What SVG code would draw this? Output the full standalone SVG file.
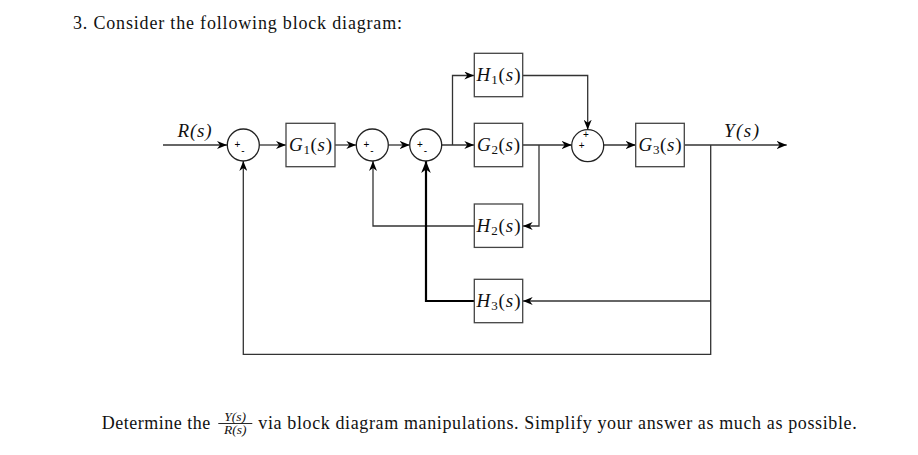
<svg xmlns="http://www.w3.org/2000/svg" width="918" height="455" viewBox="0 0 918 455">
<defs>
<marker id="ar" viewBox="0 0 10 8" markerWidth="10" markerHeight="8" refX="10" refY="4" orient="auto" markerUnits="userSpaceOnUse">
<path d="M0,0 L10,4 L0,8 L3,4 Z" fill="#000"/>
</marker>
<marker id="arb" viewBox="0 0 10 8" markerWidth="12" markerHeight="9.6" refX="10" refY="4" orient="auto" markerUnits="userSpaceOnUse">
<path d="M0,0 L10,4 L0,8 L3,4 Z" fill="#000"/>
</marker>
<style>
.w{fill:none;stroke:#333;stroke-width:1.3}
.a{marker-end:url(#ar)}
.thick{fill:none;stroke:#000;stroke-width:2.2;marker-end:url(#arb)}
.box{fill:#fff;stroke:#444;stroke-width:1.3}
.sum{fill:#fff;stroke:#222;stroke-width:1.3}
.m{font-family:"Liberation Serif",serif;font-size:19px;fill:#111;text-anchor:middle}
.i{font-style:italic}
.sub{font-size:13px}
.sg{font-family:"Liberation Sans",sans-serif;font-size:10px;fill:#000;text-anchor:middle}
.t{font-family:"Liberation Serif",serif;font-size:18px;fill:#111}
.f{font-family:"Liberation Serif",serif;font-size:13.5px;fill:#111;text-anchor:middle;font-style:italic}
</style>
</defs>

<text class="t" x="73" y="29" textLength="329" lengthAdjust="spacing">3. Consider the following block diagram:</text>

<g id="connectors">
<path class="w a" d="M163,145 H227"/>
<path class="w a" d="M259.3,145 H286"/>
<path class="w a" d="M335,145 H356.3"/>
<path class="w a" d="M388.3,145 H409.7"/>
<path class="w a" d="M441.7,145 H474.3"/>
<path class="w a" d="M452.5,145 V75.5 H474.3"/>
<path class="w a" d="M522.7,75.5 H587.7 V129.7"/>
<path class="w a" d="M522.7,145 H571.7"/>
<path class="w a" d="M539,145 V226 H522.7"/>
<path class="w a" d="M474.3,226 H373 V161"/>
<path class="w a" d="M603.7,145 H635.7"/>
<path class="w a" d="M684.3,145 H786.7"/>
<path class="w a" d="M710.7,145 V354.3 H243.3 V161"/>
<path class="w a" d="M710.7,301 H522.7"/>
<path class="thick" d="M474.3,301 H426 V161"/>
</g>

<text class="m i" x="194.5" y="137" textLength="34" lengthAdjust="spacing">R(s)</text>
<text class="m i" x="741.5" y="137" textLength="35" lengthAdjust="spacing">Y(s)</text>

<g id="sum1">
<circle class="sum" cx="243.3" cy="145" r="16"/>
<text class="sg" x="237.5" y="148">+</text>
<text class="sg" x="243" y="154">-</text>
</g>
<g id="G1">
<rect class="box" x="286" y="123.3" width="49" height="43.4"/>
<text class="m" x="310.5" y="151" textLength="43" lengthAdjust="spacing"><tspan class="i">G</tspan><tspan class="sub" dy="3">1</tspan><tspan dy="-3">(</tspan><tspan class="i">s</tspan>)</text>
</g>
<g id="sum2">
<circle class="sum" cx="372.3" cy="145" r="16"/>
<text class="sg" x="366.5" y="148">+</text>
<text class="sg" x="372" y="154">-</text>
</g>
<g id="sum3">
<circle class="sum" cx="425.7" cy="145" r="16"/>
<text class="sg" x="420" y="148">+</text>
<text class="sg" x="425.5" y="154">-</text>
</g>
<g id="H1">
<rect class="box" x="474.3" y="53.3" width="48.4" height="43.4"/>
<text class="m" x="498.5" y="81" textLength="44" lengthAdjust="spacing"><tspan class="i">H</tspan><tspan class="sub" dy="3">1</tspan><tspan dy="-3">(</tspan><tspan class="i">s</tspan>)</text>
</g>
<g id="G2">
<rect class="box" x="474.3" y="123.3" width="48.4" height="43.4"/>
<text class="m" x="498.5" y="151" textLength="43" lengthAdjust="spacing"><tspan class="i">G</tspan><tspan class="sub" dy="3">2</tspan><tspan dy="-3">(</tspan><tspan class="i">s</tspan>)</text>
</g>
<g id="H2">
<rect class="box" x="474.3" y="204" width="48.4" height="43.4"/>
<text class="m" x="498.5" y="232" textLength="44" lengthAdjust="spacing"><tspan class="i">H</tspan><tspan class="sub" dy="3">2</tspan><tspan dy="-3">(</tspan><tspan class="i">s</tspan>)</text>
</g>
<g id="H3">
<rect class="box" x="474.3" y="279.3" width="48.4" height="43.4"/>
<text class="m" x="498.5" y="307" textLength="44" lengthAdjust="spacing"><tspan class="i">H</tspan><tspan class="sub" dy="3">3</tspan><tspan dy="-3">(</tspan><tspan class="i">s</tspan>)</text>
</g>
<g id="sum4">
<circle class="sum" cx="587.7" cy="145.7" r="16"/>
<text class="sg" x="586" y="138">+</text>
<text class="sg" x="581.7" y="149">+</text>
</g>
<g id="G3">
<rect class="box" x="635.7" y="123.3" width="48.6" height="43.4"/>
<text class="m" x="660" y="151" textLength="43" lengthAdjust="spacing"><tspan class="i">G</tspan><tspan class="sub" dy="3">3</tspan><tspan dy="-3">(</tspan><tspan class="i">s</tspan>)</text>
</g>

<text class="t" x="101.7" y="428.5" textLength="108.5" lengthAdjust="spacing">Determine the</text>
<text class="f" x="235.2" y="420.5">Y(s)</text>
<line x1="218.3" y1="423.5" x2="252.3" y2="423.5" stroke="#111" stroke-width="0.9"/>
<text class="f" x="235.2" y="434">R(s)</text>
<text class="t" x="258.3" y="428.5" textLength="598.4" lengthAdjust="spacing">via block diagram manipulations. Simplify your answer as much as possible.</text>
</svg>
